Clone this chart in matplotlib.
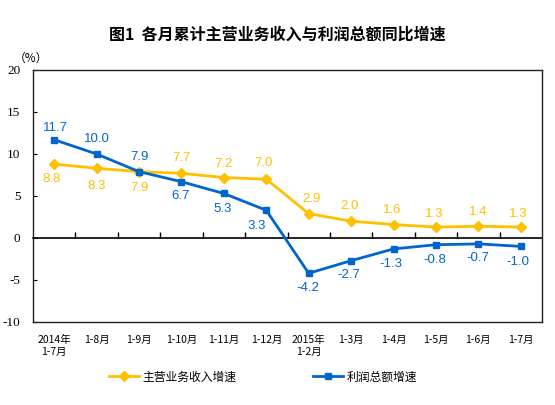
import numpy as np
import matplotlib
matplotlib.use('Agg')
import matplotlib.pyplot as plt

plt.rcParams['font.family'] = ['Noto Sans CJK SC', 'DejaVu Sans']

# data
months = ['2014年\n1-7月', '1-8月', '1-9月', '1-10月', '1-11月', '1-12月',
          '2015年\n1-2月', '1-3月', '1-4月', '1-5月', '1-6月', '1-7月']
revenue = [8.8, 8.3, 7.9, 7.7, 7.2, 7.0, 2.9, 2.0, 1.6, 1.3, 1.4, 1.3]
profit = [11.7, 10.0, 7.9, 6.7, 5.3, 3.3, -4.2, -2.7, -1.3, -0.8, -0.7, -1.0]
yticks = [-10, -5, 0, 5, 10, 15, 20]

# label offsets in pixels (dx, dy)
rev_off = [(-3, -15), (0, -18), (0, -16), (0, 15), (0, 14), (-3, 16),
           (3, 15), (-2, 15), (-1, 15), (-2, 13), (0, 14), (-3, 13)]
prof_off = [(1, 12), (0, 15), (0, 15), (-1, -14), (-1, -16), (-10, -16),
            (-1, -15), (-2, -14), (-3, -15), (-1, -15), (-1, -14), (-3, -16)]

yellow = '#FFC000'
blue = '#0066CC'

fig = plt.figure(figsize=(5.55, 4.05), dpi=100)
ax = fig.add_axes([33/555, 1 - 322/405, 509/555, 252/405])

x = np.arange(len(months))
ax.plot(x, revenue, color=yellow, lw=2, marker='D', ms=5.5, label='主营业务收入增速', zorder=3)
ax.plot(x, profit, color=blue, lw=2, marker='s', ms=5, label='利润总额增速', zorder=3)

for xi, v, (dx, dy) in zip(x, revenue, rev_off):
    ax.annotate(f'{v:.1f}', (xi, v), xytext=(dx, dy), textcoords='offset pixels',
                ha='center', va='center', color=yellow, fontsize=9.5,
                family=['Liberation Sans'])
for xi, v, (dx, dy) in zip(x, profit, prof_off):
    ax.annotate(f'{v:.1f}', (xi, v), xytext=(dx, dy), textcoords='offset pixels',
                ha='center', va='center', color=blue, fontsize=9.5,
                family=['Liberation Sans'])

ax.set_xlim(-0.5, len(months) - 0.5)
ax.set_ylim(-10, 20)
ax.set_yticks(yticks)
ax.set_yticklabels([str(t) for t in yticks], family=['Liberation Serif'], fontsize=9.5)
ax.tick_params(axis='y', direction='in', length=3, pad=9, width=0.8)
ax.set_xticks(x)
ax.set_xticklabels(months, fontsize=7.5, linespacing=1.35)
ax.tick_params(axis='x', length=0, pad=9)
for s in ax.spines.values():
    s.set_linewidth(1)
    s.set_color('#222222')

# zero axis with category boundary ticks
sec = ax.secondary_xaxis(1/3)
sec.set_xticks(np.arange(0.5, len(months) - 1, 1))
sec.tick_params(direction='in', length=4, width=1, labelbottom=False, labeltop=False)
sec.spines['bottom'].set_linewidth(1.2)
sec.spines['bottom'].set_color('black')

fig.text(31/555, 1 - 58/405, '（%）', ha='center', va='center', fontsize=8.5)
fig.text(0.5, 1 - 35/405, '图1  各月累计主营业务收入与利润总额同比增速', ha='center', va='center',
         fontsize=11.5, fontweight='bold')

fig.legend(loc='center', bbox_to_anchor=(263/555, 1 - 377/405), ncol=2, frameon=False,
           fontsize=8.5, handlelength=2.5, handletextpad=0.3, columnspacing=6.5)

fig.savefig('out.png', dpi=100)
